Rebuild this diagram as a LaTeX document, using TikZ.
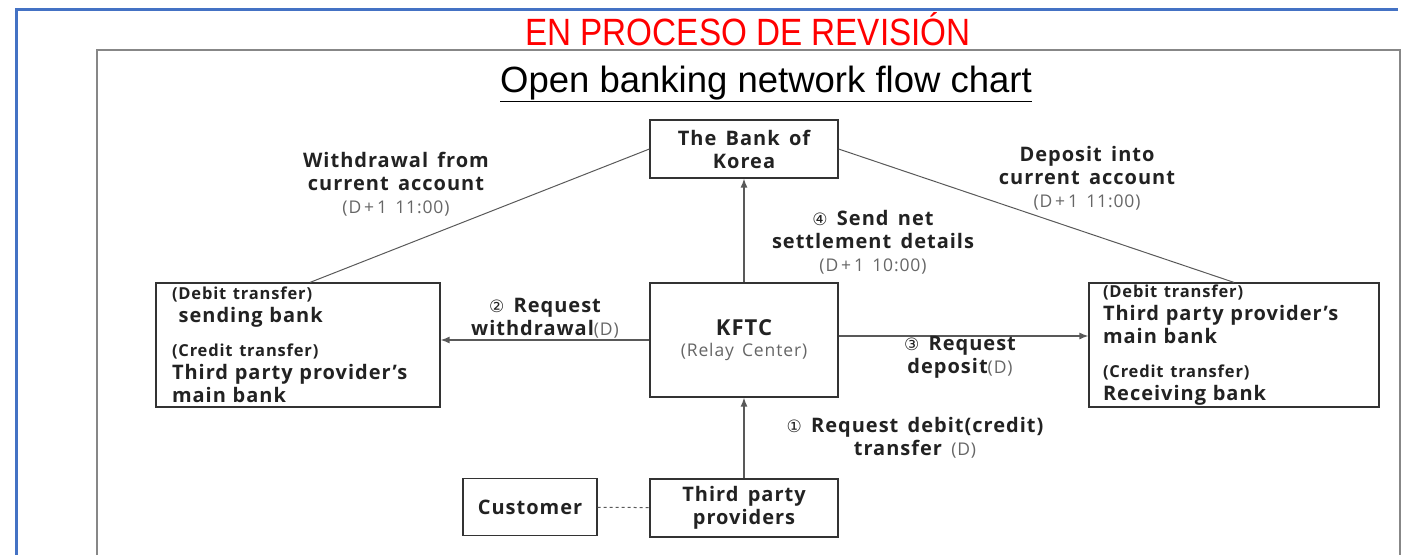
\documentclass[tikz,border=0pt]{standalone}
\usepackage{fontspec}
\setmainfont{Open Sans}[LetterSpace=5,WordSpace=1.5]
\newfontfamily\circfont{DejaVu Sans}
\newfontfamily\headfont{Liberation Sans}
\usetikzlibrary{arrows.meta}

\definecolor{frameblue}{HTML}{4472C4}
\definecolor{inkgray}{HTML}{222222}
\definecolor{timegray}{HTML}{666666}

\tikzset{
  box/.style={draw=black!80, line width=1.2pt, fill=white, inner sep=0pt,
    align=center, text=inkgray, font=\bfseries\fontsize{20}{23}\selectfont},
  sidebox/.style={box, align=left, text width=#1},
  flow/.style={draw=black!65, line width=1.3pt, -{Latex[length=9pt,width=7pt]}},
  link/.style={draw=black!65, line width=1pt},
  lbl/.style={align=center, text=inkgray, font=\bfseries\fontsize{20}{23}\selectfont},
}
\newcommand{\tm}[1]{{\mdseries\color{timegray}\fontsize{17.5}{20}\selectfont #1}}
\newcommand{\cn}[1]{{\mdseries\circfont\fontsize{17}{20}\selectfont #1}}
\newcommand{\sm}[1]{{\fontsize{16.5}{18}\selectfont #1}}

\begin{document}
\begin{tikzpicture}[x=1pt,y=-1pt]
     \useasboundingbox (0,0) rectangle (1405,555);
     % page frame and panel
     \draw[frameblue, line width=3pt] (15,9) -- (1398,9);
     \draw[frameblue, line width=3pt] (16,9) -- (16,555);
     \draw[black!47, line width=2.5pt] (97,555) -- (97,50) -- (1400,50) -- (1400,555);
     \node[text=red, font=\headfont\fontsize{38}{40}\selectfont, xscale=0.875] (draft) at (748,29) {EN PROCESO DE REVISIÓN};
     \node[font=\headfont\fontsize{36.5}{40}\selectfont] (title) at (766,84) {\underline{Open banking network flow chart}};

     % boxes
     \node[box, minimum width=188, minimum height=58] (bok) at (744,149) {The Bank of\\Korea};
     \node[box, minimum width=188, minimum height=114] (kftc) at (744,340) {\fontsize{22}{26}\selectfont KFTC\\[-2pt]\tm{(Relay Center)}};
     \node[sidebox=252, minimum height=124, inner xsep=16] (sendbank) at (298,345)
        {\sm{(Debit transfer)}\\ \ sending bank\\[11pt]\sm{(Credit transfer)}\\Third party provider's\\main bank};
     \node[sidebox=262, minimum height=124, inner xsep=14] (recvbank) at (1234,345)
        {\sm{(Debit transfer)}\\Third party provider's\\main bank\\[11pt]\sm{(Credit transfer)}\\Receiving bank};
     \node[box, minimum width=134, minimum height=57] (cust) at (530,507) {Customer};
     \node[box, minimum width=188, minimum height=58] (tpp) at (744,508) {Third party\\providers};

     % connectors
     \draw[link] (bok.west) -- ([xshift=12pt]sendbank.north);
     \draw[link] (bok.east) -- (recvbank.north);
     \draw[flow] (kftc) -- (bok);
     \draw[flow] (kftc.west) -- (kftc.west -| sendbank.east);
     \draw[flow] ([yshift=4pt]kftc.east) -- ([yshift=4pt]kftc.east -| recvbank.west);
     \draw[flow] (tpp) -- (kftc);
     \draw[link, dashed] (cust) -- (tpp);

     % labels
     \node[lbl] (wdlbl) at (396,184) {Withdrawal from\\current account\\\tm{(D\,+\,1 11:00)}};
     \node[lbl] (dplbl) at (1087,178) {Deposit into\\current account\\\tm{(D\,+\,1 11:00)}};
     \node[lbl] (netlbl) at (873,242) {\cn{④} Send net\\settlement details\\\tm{(D\,+\,1 10:00)}};
     \node[lbl] (reqwd) at (545,318) {\cn{②} Request\\withdrawal\tm{(D)}};
     \node[lbl] (reqdp) at (960,357) {\cn{③} Request\\deposit\tm{(D)}};
     \node[lbl] (reqtr) at (915,438) {\cn{①} Request debit(credit)\\transfer \tm{(D)}};
\end{tikzpicture}
\end{document}
